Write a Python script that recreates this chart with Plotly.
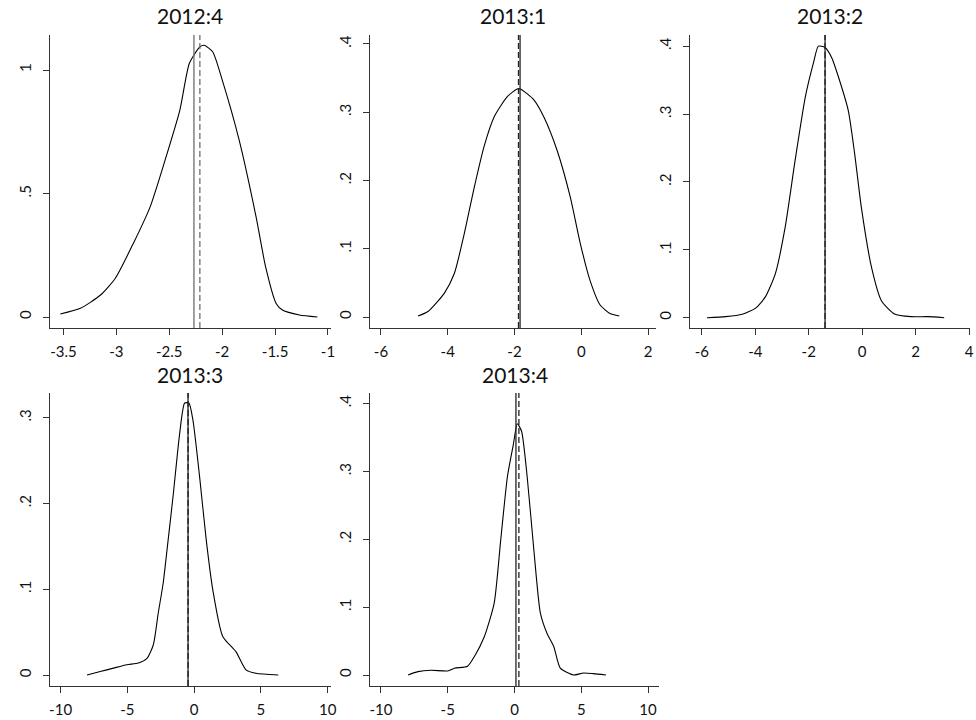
import plotly.graph_objects as go

W, H = 976, 720

titles = ["2012:4", "2013:1", "2013:2", "2013:3", "2013:4"]

x1 = [-3.53, -3.34, -3.15, -3.01, -2.84, -2.68, -2.53, -2.40, -2.31, -2.21, -2.17, -2.09, -2.00, -1.84, -1.68, -1.59, -1.49, -1.43, -1.27, -1.10]
y1 = [0.012, 0.035, 0.089, 0.157, 0.298, 0.447, 0.649, 0.838, 1.027, 1.094, 1.100, 1.074, 0.960, 0.717, 0.406, 0.204, 0.055, 0.028, 0.008, 0.000]

x2 = [-4.89, -4.59, -4.10, -3.80, -3.50, -3.20, -2.91, -2.61, -2.21, -1.92, -1.82, -1.42, -1.12, -0.73, -0.33, -0.03, 0.26, 0.56, 0.86, 1.14]
y2 = [0.0015, 0.008, 0.035, 0.064, 0.123, 0.191, 0.250, 0.293, 0.323, 0.334, 0.334, 0.318, 0.293, 0.245, 0.176, 0.108, 0.054, 0.018, 0.005, 0.0015]

x3 = [-5.81, -5.11, -4.49, -3.99, -3.62, -3.25, -2.88, -2.51, -2.13, -1.82, -1.64, -1.39, -1.14, -0.90, -0.52, -0.28, -0.03, 0.35, 0.72, 1.21, 1.83, 2.45, 3.07]
y3 = [0.0, 0.0015, 0.005, 0.014, 0.031, 0.065, 0.134, 0.232, 0.325, 0.376, 0.400, 0.398, 0.383, 0.356, 0.305, 0.241, 0.162, 0.074, 0.025, 0.0055, 0.0015, 0.0015, 0.0]

x4 = [-8.02, -7.03, -6.04, -5.04, -4.18, -3.55, -3.06, -2.69, -2.32, -1.95, -1.58, -1.08, -0.71, -0.39, -0.09, 0.41, 0.91, 1.40, 2.14, 3.14, 3.88, 4.62, 6.30]
y4 = [0.0, 0.004, 0.008, 0.012, 0.014, 0.019, 0.035, 0.072, 0.107, 0.157, 0.208, 0.282, 0.317, 0.317, 0.297, 0.231, 0.157, 0.099, 0.045, 0.027, 0.006, 0.002, 0.0]

x5 = [-7.97, -7.23, -6.24, -5.00, -4.50, -3.51, -3.01, -2.27, -1.52, -1.03, -0.53, -0.09, 0.21, 0.53, 0.95, 1.45, 1.94, 2.44, 2.94, 3.43, 4.42, 5.17, 5.91, 6.85]
y5 = [0.0, 0.005, 0.007, 0.006, 0.010, 0.013, 0.027, 0.056, 0.106, 0.199, 0.292, 0.339, 0.370, 0.359, 0.292, 0.184, 0.091, 0.061, 0.042, 0.010, 0.0, 0.003, 0.002, 0.0]

# vertical reference lines (solid, dashed)
solid_x = [-2.267, -1.833, -1.39, -0.46, 0.11]
dashed_x = [-2.211, -1.88, -1.39, -0.45, 0.33]

xs = [x1, x2, x3, x4, x5]
ys = [y1, y2, y3, y4, y5]

xtickvals = [[-3.5, -3, -2.5, -2, -1.5, -1], [-6, -4, -2, 0, 2], [-6, -4, -2, 0, 2, 4],
             [-10, -5, 0, 5, 10], [-10, -5, 0, 5, 10]]
xticktext = [["-3.5", "-3", "-2.5", "-2", "-1.5", "-1"], ["-6", "-4", "-2", "0", "2"],
             ["-6", "-4", "-2", "0", "2", "4"], ["-10", "-5", "0", "5", "10"], ["-10", "-5", "0", "5", "10"]]
ytickvals = [[0, 0.5, 1], [0, 0.1, 0.2, 0.3, 0.4], [0, 0.1, 0.2, 0.3, 0.4], [0, 0.1, 0.2, 0.3], [0, 0.1, 0.2, 0.3, 0.4]]
yticktext = [["0", ".5", "1"], ["0", ".1", ".2", ".3", ".4"], ["0", ".1", ".2", ".3", ".4"],
             ["0", ".1", ".2", ".3"], ["0", ".1", ".2", ".3", ".4"]]

# layout (pixels): left, right, top, bottom of each plot area
boxes = [(49, 332, 35, 328), (372, 660, 35, 328), (694, 976, 35, 328),
         (49, 332, 393, 686), (372, 663, 393, 686)]
xranges = [(-3.631, -0.975), (-6.318, 2.247), (-6.446, 4.037), (-10.82, 10.22), (-10.795, 10.84)]
yranges = [(-0.0445, 1.1417), (-0.0161, 0.413), (-0.0152, 0.4164), (-0.0128, 0.3287), (-0.0162, 0.4153)]
title_y = [15, 15, 15, 374, 374]

line_colors = ["#6e6e6e", "#222222", "#222222", "#222222", "#222222"]

FONT = "Lato, Carlito, Open Sans, sans-serif"

fig = go.Figure()
layout = dict(width=W, height=H, margin=dict(l=0, r=0, t=0, b=0),
              paper_bgcolor="white", plot_bgcolor="white", showlegend=False,
              font=dict(family=FONT, size=15, color="#111"))
shapes = []
annotations = []
for i in range(5):
    n = "" if i == 0 else str(i + 1)
    l, r, t, b = boxes[i]
    fig.add_trace(go.Scatter(x=xs[i], y=ys[i], mode="lines", line=dict(color="black", width=1.1, shape="spline", smoothing=0.6),
                             xaxis="x" + n, yaxis="y" + n, hoverinfo="skip"))
    common = dict(showgrid=False, zeroline=False, showline=True, linecolor="#333", linewidth=1.2,
                  ticks="outside", ticklen=6, tickwidth=1.2, tickcolor="#333",
                  tickfont=dict(family=FONT, size=15, color="#111"), fixedrange=True)
    layout["xaxis" + n] = dict(domain=[l / W, r / W], range=list(xranges[i]), anchor="y" + n,
                               tickmode="array", tickvals=xtickvals[i], ticktext=xticktext[i],
                               ticklabelstandoff=4, **common)
    layout["yaxis" + n] = dict(domain=[1 - b / H, 1 - t / H], range=list(yranges[i]), anchor="x" + n,
                               tickmode="array", tickvals=ytickvals[i], ticktext=yticktext[i],
                               tickangle=-90, ticklabelstandoff=6, **common)
    for xv, dash in ((solid_x[i], "solid"), (dashed_x[i], "6px,3px")):
        shapes.append(dict(type="line", xref="x" + n, yref="y" + n + " domain", x0=xv, x1=xv, y0=0, y1=1,
                           line=dict(color=line_colors[i], width=1.3, dash=dash)))
    annotations.append(dict(text=titles[i], xref="paper", yref="paper", x=(l + r) / 2 / W, y=1 - title_y[i] / H,
                            xanchor="center", yanchor="middle", showarrow=False,
                            font=dict(family=FONT, size=21, color="#111")))
layout["shapes"] = shapes
layout["annotations"] = annotations
fig.update_layout(**layout)
fig.write_html("out.html", config={"displayModeBar": False},
               post_script="document.body.style.margin='0';document.body.style.overflow='hidden';")
